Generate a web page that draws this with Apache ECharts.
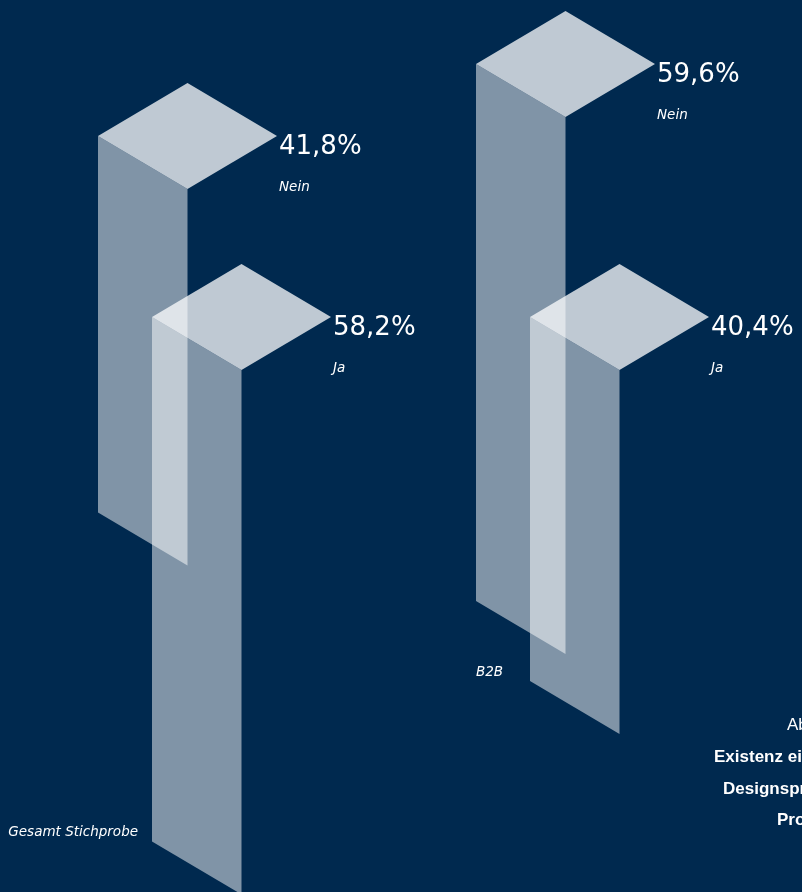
<!DOCTYPE html>
<html><head><meta charset="utf-8">
<script src="https://cdn.jsdelivr.net/npm/echarts@6/dist/echarts.min.js"></script>
<style>html,body{margin:0;padding:0;background:#00294f;overflow:hidden}#c{width:802px;height:892px}</style>
</head><body><div id="c"></div>
<script>
// ---- data ----
const groups = ['Gesamt Stichprobe', 'B2B'];
const answers = ['Nein', 'Ja'];
const neinValues = [41.8, 59.6];
const jaValues = [58.2, 40.4];
const captionLines = ['Abbildung 12', 'Existenz einer eigenen', 'Designsprache für', 'Produkte'];

// ---- layout (not data) ----
const layout = {
  anchors: [[[98, 136], [152, 317]], [[476, 64], [530, 317]]],
  groupLabel: [{x: 138, y: 832, align: 'right'}, {x: 476, y: 672, align: 'left'}],
  caption: [{x: 787, y: 725, bold: false}, {x: 714, y: 757, bold: true}, {x: 723, y: 789, bold: true}, {x: 777, y: 820, bold: true}],
  hw: 89.5, hh: 53
};

const seriesData = [];
groups.forEach((g, gi) => {
  seriesData.push([gi, 0, neinValues[gi]]);
  seriesData.push([gi, 1, jaValues[gi]]);
});

function fmt(v) { return v.toFixed(1).replace('.', ',') + '%'; }

const chart = echarts.init(document.getElementById('c'), null, {renderer: 'canvas'});
chart.setOption({
  backgroundColor: '#00294f',
  animation: false,
  grid: {left: 0, right: 0, top: 0, bottom: 0},
  xAxis: {type: 'value', min: 0, max: 802, show: false},
  yAxis: {type: 'value', min: 0, max: 99, show: false},
  graphic: [
    ...groups.map((g, gi) => ({
      type: 'text',
      x: layout.groupLabel[gi].x, y: layout.groupLabel[gi].y,
      style: {text: g, fill: '#ffffff', font: 'italic 13.5px "DejaVu Sans"',
        align: layout.groupLabel[gi].align, verticalAlign: 'middle',
        textAlign: layout.groupLabel[gi].align, textVerticalAlign: 'middle'}
    })),
    ...captionLines.map((t, i) => ({
      type: 'text',
      x: layout.caption[i].x, y: layout.caption[i].y,
      style: {text: t, fill: '#ffffff',
        font: (layout.caption[i].bold ? 'bold ' : '') + '17px "Liberation Sans"',
        align: 'left', verticalAlign: 'middle', textAlign: 'left', textVerticalAlign: 'middle'}
    }))
  ],
  series: [{
    type: 'custom',
    clip: false,
    data: seriesData,
    renderItem: function (params, api) {
      const gi = api.value(0), ai = api.value(1), v = api.value(2);
      const L = api.size([0, v])[1];
      const a = layout.anchors[gi][ai];
      const x0 = a[0], y0 = a[1], hw = layout.hw, hh = layout.hh;
      return {
        type: 'group',
        children: [
          {type: 'polygon', shape: {points: [[x0, y0], [x0 + hw, y0 + hh], [x0 + hw, y0 + hh + L], [x0, y0 + L]]},
            style: {fill: 'rgba(255,255,255,0.5)'}},
          {type: 'polygon', shape: {points: [[x0, y0], [x0 + hw, y0 - hh], [x0 + 2 * hw, y0], [x0 + hw, y0 + hh]]},
            style: {fill: 'rgba(255,255,255,0.75)'}},
          {type: 'text', x: x0 + 2 * hw + 2, y: y0 + 11,
            style: {text: fmt(v), fill: '#ffffff', font: '26px "DejaVu Sans"',
              align: 'left', verticalAlign: 'middle', textAlign: 'left', textVerticalAlign: 'middle'}},
          {type: 'text', x: x0 + 2 * hw + 2, y: y0 + 51,
            style: {text: answers[ai], fill: '#ffffff', font: 'italic 13.5px "DejaVu Sans"',
              align: 'left', verticalAlign: 'middle', textAlign: 'left', textVerticalAlign: 'middle'}}
        ]
      };
    }
  }]
});
</script></body></html>
